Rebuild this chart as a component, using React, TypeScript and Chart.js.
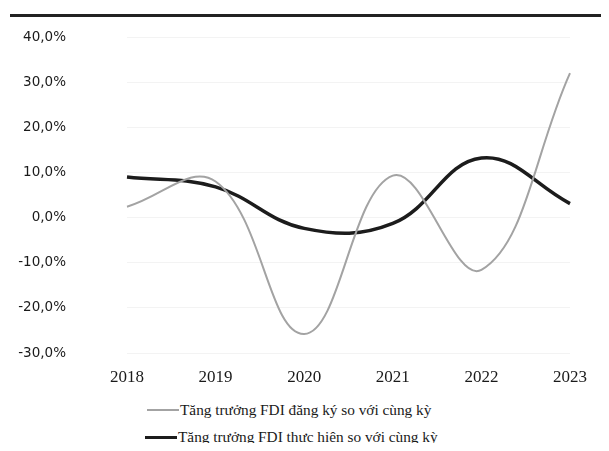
import React, { useEffect, useRef } from "react";
import { Chart, registerables } from "chart.js";

Chart.register(...registerables);

const years = ["2018", "2019", "2020", "2021", "2022", "2023"];
const registeredGrowth = [2.4, 8.0, -25.8, 9.3, -11.6, 32.0];
const implementedGrowth = [9.0, 6.8, -2.4, -1.3, 13.2, 3.1];
const registeredLabel = "Tăng trưởng FDI đăng ký so với cùng kỳ";
const implementedLabel = "Tăng trưởng FDI thực hiện so với cùng kỳ";

export default function App() {
  const canvasRef = useRef<HTMLCanvasElement | null>(null);

  useEffect(() => {
    if (!canvasRef.current) return;
    const chart = new Chart(canvasRef.current, {
      type: "line",
      data: {
        labels: years,
        datasets: [
          {
            label: registeredLabel,
            data: registeredGrowth,
            borderColor: "#a3a3a3",
            borderWidth: 2,
            pointRadius: 0,
            tension: 0.4,
            fill: false,
          },
          {
            label: implementedLabel,
            data: implementedGrowth,
            borderColor: "#1c1c1c",
            borderWidth: 3.5,
            pointRadius: 0,
            tension: 0.4,
            fill: false,
          },
        ],
      },
      options: {
        animation: false,
        responsive: false,
        layout: { padding: { top: 29, right: 28, bottom: 0, left: 0 } },
        plugins: { legend: { display: false }, tooltip: { enabled: false } },
        scales: {
          x: {
            offset: false,
            grid: { display: false, drawTicks: false },
            border: { display: false },
            ticks: {
              padding: 14,
              color: "#1a1a1a",
              font: { family: "'Liberation Serif', serif", size: 17 },
            },
            afterFit: (s: any) => {
              s.height = 40;
            },
          },
          y: {
            min: -30,
            max: 40,
            grid: { color: "#f3f3f3", drawTicks: true, tickLength: 58, tickColor: "rgba(0,0,0,0)" },
            border: { display: false },
            ticks: {
              stepSize: 10,
              padding: 3,
              color: "#1a1a1a",
              font: { family: "'DejaVu Sans', sans-serif", size: 13.5 },
              callback: (v: any) => Number(v).toFixed(1).replace(".", ",") + "%",
            },
            afterFit: (s: any) => {
              s.width = 119;
            },
          },
        },
      },
    });
    return () => chart.destroy();
  }, []);

  const legendText: React.CSSProperties = {
    fontFamily: "'Liberation Serif', serif",
    fontSize: 15.3,
    color: "#1a1a1a",
    whiteSpace: "nowrap",
    lineHeight: "18px",
  };

  return (
    <div style={{ position: "relative", width: 593, height: 435 }}>
      <div
        style={{
          position: "absolute",
          left: 2,
          top: 6,
          width: 591,
          height: 0,
          borderTop: "3px solid #222",
        }}
      />
      <canvas
        ref={canvasRef}
        width={593}
        height={385}
        style={{ position: "absolute", left: 0, top: 0, width: 593, height: 385 }}
      />
      <div style={{ position: "absolute", left: 139, top: 393, display: "flex", alignItems: "center", ...legendText }}>
        <span style={{ display: "inline-block", width: 32, borderTop: "2px solid #a3a3a3", marginRight: 1 }} />
        <span>{registeredLabel}</span>
      </div>
      <div style={{ position: "absolute", left: 137, top: 420, display: "flex", alignItems: "center", ...legendText }}>
        <span style={{ display: "inline-block", width: 32, borderTop: "3px solid #1c1c1c", marginRight: 1 }} />
        <span>{implementedLabel}</span>
      </div>
    </div>
  );
}
